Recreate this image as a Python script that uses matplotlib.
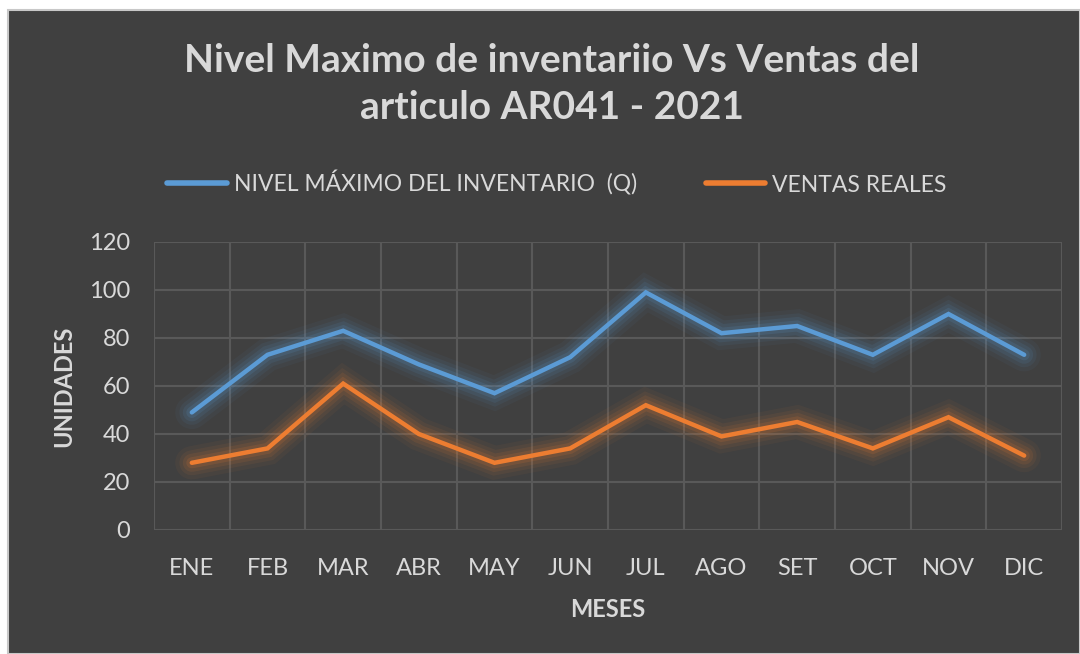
import matplotlib.pyplot as plt
import matplotlib.patheffects as pe
from matplotlib.patches import Rectangle

meses = ["ENE", "FEB", "MAR", "ABR", "MAY", "JUN", "JUL", "AGO", "SET", "OCT", "NOV", "DIC"]
nivel_maximo = [49, 73, 83, 69, 57, 72, 99, 82, 85, 73, 90, 73]
ventas_reales = [28, 34, 61, 40, 28, 34, 52, 39, 45, 34, 47, 31]
y_ticks = [0, 20, 40, 60, 80, 100, 120]

BG = "#404040"
GRID = "#595959"
TXT = "#d9d9d9"
BLUE = "#5b9bd5"
ORANGE = "#ed7d31"

plt.rcParams['font.family'] = ['Lato', 'DejaVu Sans']

fig = plt.figure(figsize=(10.8, 6.54), dpi=100, facecolor="white")
# dark chart area with thin light frame
fig.patches.append(Rectangle((8 / 1080, 0), 1 - 8 / 1080, 1 - 10 / 654, transform=fig.transFigure,
                             facecolor=BG, edgecolor="#c8c8c8", linewidth=1.5, zorder=-1))

ax = fig.add_axes([154 / 1080, 1 - 530 / 654, (1062 - 154) / 1080, (530 - 242) / 654])
ax.set_facecolor(BG)

x = range(len(meses))


def glow(color):
    return [pe.Stroke(linewidth=24, foreground=color, alpha=0.05),
            pe.Stroke(linewidth=18, foreground=color, alpha=0.07),
            pe.Stroke(linewidth=13, foreground=color, alpha=0.10),
            pe.Stroke(linewidth=8, foreground=color, alpha=0.14),
            pe.Normal()]


l1, = ax.plot(x, nivel_maximo, color=BLUE, linewidth=3.2, solid_capstyle="round",
              solid_joinstyle="miter", path_effects=glow(BLUE), label="NIVEL MÁXIMO DEL INVENTARIO  (Q)")
l2, = ax.plot(x, ventas_reales, color=ORANGE, linewidth=3.2, solid_capstyle="round",
              solid_joinstyle="miter", path_effects=glow(ORANGE), label="VENTAS REALES")

ax.set_xlim(-0.5, len(meses) - 0.5)
ax.set_ylim(0, 120)
ax.set_yticks(y_ticks)
ax.set_xticks(list(x))
ax.set_xticklabels(meses)
ax.set_xticks([i + 0.5 for i in range(-1, len(meses))], minor=True)
ax.grid(True, which="major", axis="y", color=GRID, linewidth=1.5)
ax.grid(True, which="minor", axis="x", color=GRID, linewidth=1.5)
ax.tick_params(which="both", length=0, colors=TXT, labelsize=17)
ax.tick_params(axis="x", pad=20)
ax.tick_params(axis="y", pad=17)
for s in ax.spines.values():
    s.set_visible(False)

ax.set_xlabel("MESES", color=TXT, fontsize=17, fontweight="bold", labelpad=14)
ax.set_ylabel("UNIDADES", color=TXT, fontsize=17, fontweight="bold", labelpad=10)

fig.text(552 / 1080, 1 - 84 / 654, "Nivel Maximo de inventariio Vs Ventas del\narticulo AR041 - 2021",
         ha="center", va="center", color=TXT, fontsize=28, fontweight="bold", linespacing=1.4)

leg = fig.legend(handles=[l1, l2], loc="center", bbox_to_anchor=(557 / 1080, 1 - 183 / 654), ncol=2,
                 frameon=False, fontsize=16.5, handlelength=2.6, columnspacing=3.0, handletextpad=0.3,
                 labelcolor=TXT)
for h in leg.legend_handles:
    h.set_path_effects([])
    h.set_linewidth(4)

fig.savefig("out.png", dpi=100, facecolor=fig.get_facecolor())
